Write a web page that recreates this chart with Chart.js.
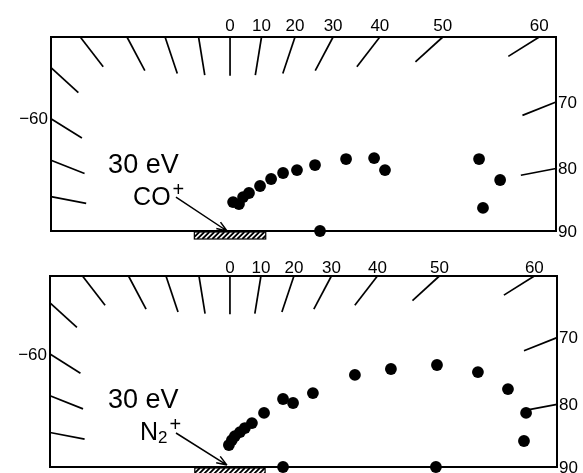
<!DOCTYPE html>
<html>
<head>
<meta charset="utf-8">
<script src="https://cdn.jsdelivr.net/npm/chart.js@4/dist/chart.umd.min.js"></script>
<style>
  html, body { margin: 0; padding: 0; background: #fff; }
  #wrap { position: relative; width: 583px; height: 473px; overflow: hidden; }
  canvas { position: absolute; left: 0; }
</style>
</head>
<body>
<div id="wrap">
  <canvas id="c1" width="583" height="240" style="top:0"></canvas>
  <canvas id="c2" width="583" height="233" style="top:240px"></canvas>
</div>
<script>
// ---- data (units: box height = 10; x in same angular units, origin at sample) ----
const tickAngles = [-80, -70, -60, -50, -40, -30, -20, -10, 0, 10, 20, 30, 40, 50, 60, 70, 80];
const labeledAngles = [-60, 0, 10, 20, 30, 40, 50, 60, 70, 80, 90];
const angleLabels = ['\u221260', '0', '10', '20', '30', '40', '50', '60', '70', '80', '90'];

const coX = [0.17, 0.50, 0.73, 1.06, 1.68, 2.30, 2.97, 3.75, 4.76, 6.50, 8.07, 8.68, 13.95, 15.13, 14.17, 5.04];
const coY = [1.49, 1.39, 1.75, 1.96, 2.32, 2.68, 2.99, 3.14, 3.40, 3.71, 3.76, 3.14, 3.71, 2.63, 1.19, 0.00];

const n2X = [-0.06, 0.11, 0.28, 0.57, 0.85, 1.25, 1.94, 3.02, 3.59, 4.72, 7.11, 9.16, 11.78, 14.11, 15.82, 16.85, 16.73, 3.02, 11.72];
const n2Y = [1.15, 1.41, 1.62, 1.83, 2.04, 2.30, 2.83, 3.56, 3.35, 3.87, 4.82, 5.13, 5.34, 4.97, 4.08, 2.83, 1.36, 0.00, 0.00];

const energyLabel = '30 eV';
const FONT = '"Liberation Sans", Arial, Helvetica, sans-serif';

function tickSegments(xmin, xmax, ymax, len) {
  return tickAngles.map(a => {
    const r = a * Math.PI / 180, s = Math.sin(r), c = Math.cos(r);
    let t = Infinity;
    if (c > 1e-9) t = Math.min(t, ymax / c);
    if (s > 1e-9) t = Math.min(t, xmax / s);
    if (s < -1e-9) t = Math.min(t, xmin / s);
    return [{x: t * s, y: t * c}, {x: (t - len) * s, y: (t - len) * c}];
  });
}
function borderPoint(a, xmin, xmax, ymax) {
  const r = a * Math.PI / 180, s = Math.sin(r), c = Math.cos(r);
  let t = Infinity, side = 'top';
  if (c > 1e-9) t = Math.min(t, ymax / c);
  if (s > 1e-9 && xmax / s < t) { t = xmax / s; side = 'right'; }
  if (s < -1e-9 && xmin / s < t) { t = xmin / s; side = 'left'; }
  return {x: t * s, y: Math.max(0, t * c), side};
}

const deco = {
  id: 'deco',
  beforeDatasetsDraw(chart) {
    const ctx = chart.ctx, a = chart.chartArea;
    const xs = chart.scales.x, ys = chart.scales.y;
    ctx.save();
    ctx.strokeStyle = '#000'; ctx.lineWidth = 2;
    ctx.strokeRect(a.left, a.top, a.right - a.left, a.bottom - a.top);
    const hx1 = xs.getPixelForValue(-2), hx2 = xs.getPixelForValue(2);
    const hy = ys.getPixelForValue(0) + 1, hh = 7;
    ctx.lineWidth = 1.2;
    ctx.strokeRect(hx1, hy, hx2 - hx1, hh);
    ctx.beginPath(); ctx.rect(hx1, hy, hx2 - hx1, hh); ctx.clip();
    ctx.lineWidth = 1.8;
    ctx.beginPath();
    for (let k = hx1 - hh; k < hx2 + hh; k += 5) { ctx.moveTo(k, hy + hh); ctx.lineTo(k + hh, hy); }
    ctx.stroke();
    ctx.restore();
  },
  afterDatasetsDraw(chart) {
    const o = chart.options.plugins.deco, ctx = chart.ctx, a = chart.chartArea;
    const xs = chart.scales.x, ys = chart.scales.y;
    ctx.save();
    ctx.fillStyle = '#000'; ctx.strokeStyle = '#000';
    ctx.font = '17px ' + FONT;
    labeledAngles.forEach((ang, i) => {
      const p = borderPoint(ang, xs.min, xs.max, ys.max);
      const px = xs.getPixelForValue(p.x), py = ys.getPixelForValue(p.y);
      if (p.side === 'top') {
        ctx.textAlign = 'center'; ctx.textBaseline = 'alphabetic';
        ctx.fillText(angleLabels[i], px, a.top - o.topGap);
      } else if (p.side === 'right') {
        ctx.textAlign = 'left'; ctx.textBaseline = 'middle';
        ctx.fillText(angleLabels[i], a.right + 2, py + 1);
      } else {
        ctx.textAlign = 'right'; ctx.textBaseline = 'middle';
        ctx.fillText(angleLabels[i], a.left - 3, py + 1);
      }
    });
    ctx.textAlign = 'left'; ctx.textBaseline = 'alphabetic';
    ctx.font = '27px ' + FONT;
    ctx.fillText(energyLabel, xs.getPixelForValue(o.eX), ys.getPixelForValue(o.eY));
    let lx = xs.getPixelForValue(o.iX), ly = ys.getPixelForValue(o.iY);
    ctx.font = '25px ' + FONT;
    ctx.fillText(o.ion, lx, ly);
    lx += ctx.measureText(o.ion).width;
    if (o.sub) {
      ctx.font = '17px ' + FONT;
      ctx.fillText(o.sub, lx, ly + 3);
      lx += ctx.measureText(o.sub).width;
    }
    ctx.font = '20px ' + FONT;
    ctx.fillText('+', lx + 2, ly - 9);
    const x0 = xs.getPixelForValue(o.arrow[0]), y0 = ys.getPixelForValue(o.arrow[1]);
    const x1 = xs.getPixelForValue(o.arrow[2]), y1 = ys.getPixelForValue(o.arrow[3]);
    ctx.lineWidth = 1.5;
    ctx.beginPath(); ctx.moveTo(x0, y0); ctx.lineTo(x1, y1);
    const ang = Math.atan2(y1 - y0, x1 - x0), hl = 11;
    ctx.moveTo(x1, y1); ctx.lineTo(x1 - hl * Math.cos(ang - 0.35), y1 - hl * Math.sin(ang - 0.35));
    ctx.moveTo(x1, y1); ctx.lineTo(x1 - hl * Math.cos(ang + 0.35), y1 - hl * Math.sin(ang + 0.35));
    ctx.stroke();
    ctx.restore();
  }
};

function makeChart(id, xsArr, ysArr, xmin, xmax, padding, decoOpts) {
  const segs = tickSegments(xmin, xmax, 10, 2.0);
  const datasets = segs.map(s => ({
    type: 'scatter', data: s, showLine: true, pointRadius: 0,
    borderColor: '#000', borderWidth: 1.7, clip: false
  }));
  datasets.push({
    type: 'scatter',
    data: xsArr.map((x, i) => ({x, y: ysArr[i]})),
    pointRadius: 5.9, pointHoverRadius: 5.9,
    backgroundColor: '#000', borderColor: '#000', borderWidth: 0, clip: false
  });
  return new Chart(document.getElementById(id), {
    type: 'scatter',
    data: {datasets},
    options: {
      responsive: false, animation: false, events: [],
      layout: {padding},
      plugins: {legend: {display: false}, tooltip: {enabled: false}, deco: decoOpts},
      scales: {
        x: {type: 'linear', min: xmin, max: xmax, display: false},
        y: {type: 'linear', min: 0, max: 10, display: false}
      }
    },
    plugins: [deco]
  });
}

makeChart('c1', coX, coY, -10.03, 18.26, {left: 51, right: 27, top: 37, bottom: 9},
  {topGap: 6, eX: -6.83, eY: 2.99, iX: -5.43, iY: 1.34, ion: 'CO', sub: '',
   arrow: [-3.03, 1.75, -0.17, 0]});
makeChart('c2', n2X, n2Y, -10.24, 18.61, {left: 50, right: 26, top: 36, bottom: 6},
  {topGap: 3, eX: -6.94, eY: 3.09, iX: -5.12, iY: 1.41, ion: 'N', sub: '2',
   arrow: [-3.07, 1.78, -0.17, 0.1]});
</script>
</body>
</html>
